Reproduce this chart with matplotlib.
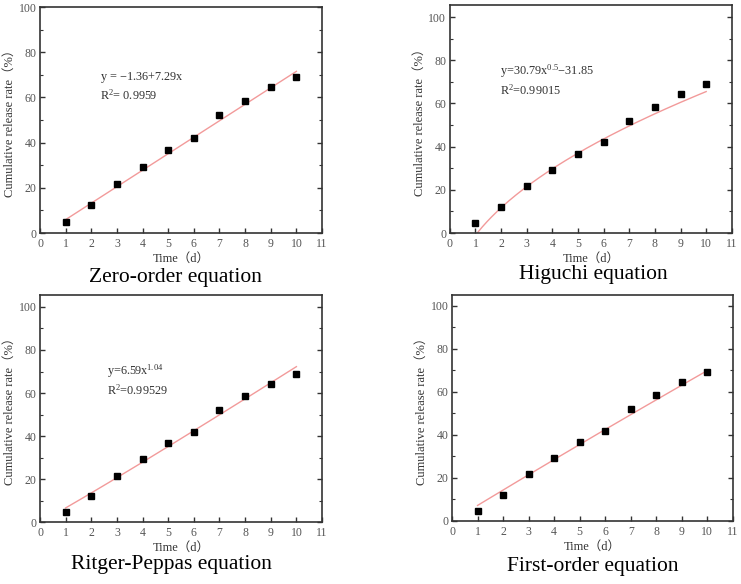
import numpy as np
import matplotlib
matplotlib.use("Agg")
import matplotlib.pyplot as plt

plt.rcParams['font.family'] = ['Liberation Serif', 'Noto Sans CJK SC']
plt.rcParams['mathtext.fontset'] = 'custom'
plt.rcParams['mathtext.rm'] = 'Liberation Serif'
plt.rcParams['mathtext.it'] = 'Liberation Serif'

# measured cumulative release (%) vs time (d)
days = np.arange(1, 11)
release = [4.8, 12.2, 21.6, 29.2, 36.8, 42.0, 52.0, 58.4, 64.4, 69.0]

# fitted model parameters (as printed on the panels)
zero_b, zero_k = -1.36, 7.29
hig_k, hig_b = 30.79, -31.85
rp_k, rp_n = 6.59, 1.04
fo_a, fo_k = 1078.0, 0.0067   # first-order estimate (no equation shown)

captions = ["Zero-order equation", "Higuchi equation",
            "Ritger-Peppas equation", "First-order equation"]
eq_texts = [r"y = $-$1.36+7.29x" + "\n" + r"R$^2$= 0.9959",
            r"y=30.79x$^{0.5}$$-$31.85" + "\n" + r"R$^2$=0.99015",
            r"y=6.59x$^{1.04}$" + "\n" + r"R$^2$=0.99529",
            None]

fig = plt.figure(figsize=(7.41, 5.84), dpi=100)

# axes rectangles [left, bottom, width, height]
rects = [[0.054, 0.601, 0.3806, 0.387],
         [0.607, 0.601, 0.3806, 0.390],
         [0.054, 0.106, 0.3806, 0.389],
         [0.610, 0.108, 0.379, 0.387]]
ytops = [100, 105.5, 105.6, 105]
eq_pos = [(2.34, 65), (1.95, 70.8), (2.6, 66), None]
cap_pos = [(175, 277), (593, 275), (171, 565), (593, 566)]

xfit = np.linspace(1, 10, 200)
fits = [zero_b + zero_k * xfit,
        hig_k * np.sqrt(xfit) + hig_b,
        rp_k * xfit ** rp_n,
        fo_a * (1 - np.exp(-fo_k * xfit))]

for i in range(4):
    ax = fig.add_axes(rects[i])
    yf = fits[i]
    m = yf >= 0
    ax.plot(xfit[m], yf[m], color='#f29a9a', lw=1.0, zorder=2)
    ax.plot(days, release, 's', color='black', ms=4.8, zorder=3)
    ax.set_xlim(0, 11)
    ax.set_ylim(0, ytops[i])
    ax.set_xticks(range(0, 12))
    ax.set_yticks(range(0, 101, 20))
    ax.set_yticks(range(10, 101, 20), minor=True)
    ax.tick_params(axis='both', which='both', direction='in', labelsize=8.5,
                   labelcolor='#555555', color='#333333', right=True)
    ax.tick_params(which='major', length=3.5, width=1)
    ax.tick_params(which='minor', length=2, width=0.8)
    ax.tick_params(axis='y', pad=2.5)
    for s in ax.spines.values():
        s.set_color('#333333')
        s.set_linewidth(1.2)
    ax.set_xlabel("Time（d）", fontsize=9, color='#333333', labelpad=2)
    ax.set_ylabel("Cumulative release rate（%）", fontsize=9,
                  color='#333333', labelpad=2)
    if eq_texts[i] is not None:
        ax.text(eq_pos[i][0], eq_pos[i][1], eq_texts[i], fontsize=8.8,
                color='#333333', va='center', ha='left', linespacing=1.3)
    cx, cy = cap_pos[i]
    fig.text(cx / 741, 1 - cy / 584, captions[i], fontsize=15.5,
             ha='center', va='center', color='black')

fig.savefig("out.png", dpi=100)
